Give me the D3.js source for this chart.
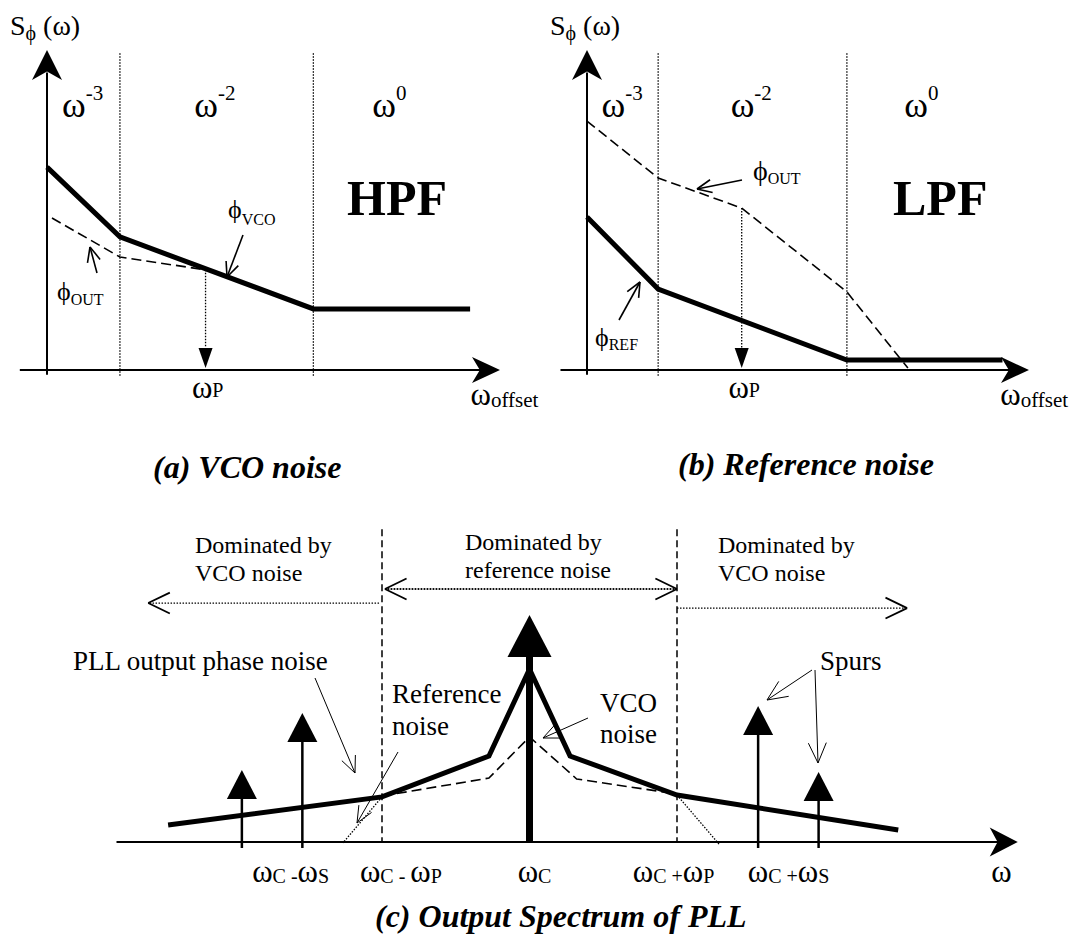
<!DOCTYPE html>
<meta charset="utf-8">

<head>
    <meta charset="utf-8">
    <title>PLL phase noise</title>
    <script type="text/javascript" src="https://d3js.org/d3.v7.min.js"></script>
</head>

<style type="text/css">
    body {
        margin: 0;
        background-color: #ffffff;
    }

    svg {
        display: block;
    }

    text {
        font-family: "Liberation Serif", "Times New Roman", serif;
        fill: #000;
    }

    .title {
        font-weight: bold;
        font-style: italic;
        font-size: 32px;
    }

    .big {
        font-weight: bold;
        font-size: 50px;
    }

    .note {
        font-size: 24px;
    }

    .thick { fill: none; stroke: #000; stroke-width: 5; stroke-linejoin: miter; }
    .dash  { fill: none; stroke: #000; stroke-width: 1.6; stroke-dasharray: 10, 5; }
    .dot   { fill: none; stroke: #000; stroke-width: 1.3; stroke-dasharray: 1.5, 1.5; }
    .thin  { fill: none; stroke: #000; stroke-width: 1; }
    .axis  { fill: none; stroke: #000; stroke-width: 2; }
</style>

<body>

    <div id="figure"></div>

    <script>

        // ---------- data ----------

        // (a) and (b): schematic offset axis 0..100, noise level 0..100
        const cornerFreqs = [16.1, 58.8];          // w^-3 | w^-2 | w^0 boundaries
        const omegaP = 35;                         // loop bandwidth
        const slopeExps = ["-3", "-2", "0"];
        const slopePos = [3.3, 32.5, 71.8];
        const vcoFree = [[0, 63.4], [16.1, 41.6], [58.8, 19.1], [93.4, 19.1]];
        const vcoAtOut = [[1.1, 47.5], [16.1, 35.3], [35, 31.3]];
        const refFree = [[0, 47.8], [16.1, 25.3], [58.8, 3.1], [94, 3.1]];
        const refAtOut = [[0, 77.8], [16.1, 60], [35, 50.6], [58.8, 24.4], [72.6, 0.6]];

        // (c): frequency in units of wP around the carrier, level 0..100
        const pllOut = [[-2.45, 7.4], [-1, 19.6], [-0.275, 37.4], [0, 75.2], [0.275, 37.4], [1, 20.4], [2.5, 5.2]];
        const vcoSide = [[-1, 20], [-0.275, 27.8], [0, 45.7], [0.32, 27.4], [1, 20.9]];
        const refSideL = [[-1, 19.6], [-1.265, -0.4]];
        const refSideR = [[1, 20.4], [1.29, -1.3]];
        const spurFreqs = [-1.95, -1.54, 1.55, 1.96];
        const spurLevels = [31.3, 56.1, 59.1, 30.4];
        const carrierLevel = 98.7;
        const tickPos = [-1.88, -1.15, -0.08, 0.70, 1.48, 3.13];
        // [text, isSubscript]
        const tickText = [
            [["ω", 0], ["C", 1], [" -", 1], ["ω", 0], ["S", 1]],
            [["ω", 0], ["C", 1], [" - ", 1], ["ω", 0], ["P", 1]],
            [["ω", 0], ["C", 1]],
            [["ω", 0], ["C", 1], [" +", 1], ["ω", 0], ["P", 1]],
            [["ω", 0], ["C", 1], [" +", 1], ["ω", 0], ["S", 1]],
            [["ω", 0]]
        ];

        // ---------- svg ----------
        const svg = d3.select("#figure")
            .append("svg")
            .attr("width", 1074)
            .attr("height", 938);

        // text with sub/superscripts; shift = offset from baseline (px)
        function rich(g, x, y, parts) {
            const t = g.append("text").attr("x", x).attr("y", y);
            let prev = 0;
            parts.forEach(p => {
                const s = p.shift || 0;
                t.append("tspan")
                    .attr("dy", s - prev)
                    .style("font-size", p.size + "px")
                    .text(p.t);
                prev = s;
            });
            return t;
        }

        // notched filled arrowhead (axes)
        function solidHead(g, tip, dir, len, half) {
            const [dx, dy] = dir, px = -dy, py = dx;
            const pts = [
                tip,
                [tip[0] - dx * len + px * half, tip[1] - dy * len + py * half],
                [tip[0] - dx * len * 0.72, tip[1] - dy * len * 0.72],
                [tip[0] - dx * len - px * half, tip[1] - dy * len - py * half]
            ];
            g.append("path").attr("d", "M" + pts.join("L") + "Z").attr("fill", "#000");
        }

        // plain filled triangle pointing up/down
        function triangle(g, x, tipY, baseY, half) {
            g.append("path")
                .attr("d", `M${x},${tipY}L${x + half},${baseY}L${x - half},${baseY}Z`)
                .attr("fill", "#000");
        }

        // open V arrowhead at "to"
        function openHead(g, from, to, len, ang, w) {
            const a = Math.atan2(to[1] - from[1], to[0] - from[0]);
            [ang, -ang].forEach(s => {
                g.append("line")
                    .attr("x1", to[0]).attr("y1", to[1])
                    .attr("x2", to[0] - len * Math.cos(a + s))
                    .attr("y2", to[1] - len * Math.sin(a + s))
                    .attr("stroke", "#000").attr("stroke-width", w);
            });
        }

        function pointer(g, from, to, len, w) {
            g.append("line")
                .attr("x1", from[0]).attr("y1", from[1])
                .attr("x2", to[0]).attr("y2", to[1])
                .attr("stroke", "#000").attr("stroke-width", w);
            openHead(g, from, to, len, 0.42, w);
        }

        // ---------- panels (a) and (b) ----------
        const yAB = d3.scaleLinear().domain([0, 100]).range([370, 50]);
        const xA = d3.scaleLinear().domain([0, 100]).range([47, 500]);
        const xB = d3.scaleLinear().domain([0, 100]).range([587, 1029]);

        function densityPanel(x, solid, dashed) {
            const g = svg.append("g");
            const line = d3.line().x(d => x(d[0])).y(d => yAB(d[1]));

            // axes
            g.append("line").attr("class", "axis")
                .attr("x1", x(-6)).attr("x2", x(96)).attr("y1", yAB(0)).attr("y2", yAB(0));
            solidHead(g, [x(100), yAB(0)], [1, 0], 28, 13);
            g.append("line").attr("class", "axis")
                .attr("x1", x(0)).attr("x2", x(0)).attr("y1", yAB(-1.5)).attr("y2", yAB(93));
            solidHead(g, [x(0), yAB(100)], [0, -1], 30, 15);

            // region boundaries
            g.selectAll(".corner")
                .data(cornerFreqs)
                .join("line")
                .attr("class", "dot")
                .attr("x1", d => x(d)).attr("x2", d => x(d))
                .attr("y1", yAB(99)).attr("y2", yAB(-2));

            // slope labels
            slopeExps.forEach((e, i) => {
                rich(g, x(slopePos[i]), yAB(79), [
                    { t: "ω", size: 36 },
                    { t: e, size: 21, shift: -17 }
                ]);
            });

            g.append("path").datum(solid).attr("class", "thick").attr("d", line);
            g.append("path").datum(dashed).attr("class", "dash").attr("d", line);

            // wP marker
            const wp = dashed.find(d => d[0] === omegaP);
            g.append("line").attr("class", "dot")
                .attr("x1", x(omegaP)).attr("x2", x(omegaP))
                .attr("y1", yAB(wp[1])).attr("y2", yAB(7));
            triangle(g, x(omegaP), yAB(0.6), yAB(0.6) - 20, 7);

            rich(g, x(32), 398, [{ t: "ω", size: 31 }, { t: "P", size: 20, shift: -1 }]);
            rich(g, x(93.5), 405, [{ t: "ω", size: 31 }, { t: "offset", size: 21, shift: 2 }]);
            rich(g, x(0) - 37, 35, [
                { t: "S", size: 28 },
                { t: "ϕ", size: 20, shift: 5 },
                { t: " (ω)", size: 28 }
            ]);
            return g;
        }

        const gA = densityPanel(xA, vcoFree, vcoAtOut);
        gA.append("text").attr("class", "big").attr("x", 347).attr("y", 215).text("HPF");
        rich(gA, 228, 218, [{ t: "ϕ", size: 26 }, { t: "VCO", size: 16, shift: 7 }]);
        pointer(gA, [243, 235], [227, 277], 16, 1.6);
        rich(gA, 57, 300, [{ t: "ϕ", size: 26 }, { t: "OUT", size: 16, shift: 5 }]);
        pointer(gA, [97, 273], [90, 247], 16, 1.6);
        gA.append("text").attr("class", "title").attr("x", 153).attr("y", 478).text("(a) VCO noise");

        const gB = densityPanel(xB, refFree, refAtOut);
        gB.append("text").attr("class", "big").attr("x", 893).attr("y", 215).text("LPF");
        rich(gB, 753, 180, [{ t: "ϕ", size: 28 }, { t: "OUT", size: 16, shift: 4 }]);
        pointer(gB, [742, 180], [697, 189], 16, 1.6);
        rich(gB, 595, 346, [{ t: "ϕ", size: 26 }, { t: "REF", size: 16, shift: 4 }]);
        pointer(gB, [619, 320], [640, 282], 16, 1.6);
        gB.append("text").attr("class", "title").attr("x", 678).attr("y", 475).text("(b) Reference noise");

        // ---------- panel (c) ----------
        const xC = d3.scaleLinear().domain([-1, 1]).range([382, 677]);
        const yC = d3.scaleLinear().domain([0, 100]).range([842, 612]);
        const lineC = d3.line().x(d => xC(d[0])).y(d => yC(d[1]));
        const gC = svg.append("g");

        gC.append("line").attr("class", "axis")
            .attr("x1", xC(-2.8)).attr("x2", xC(3.2)).attr("y1", yC(0)).attr("y2", yC(0));
        solidHead(gC, [xC(3.31), yC(0)], [1, 0], 28, 14.5);

        // wP boundaries
        gC.selectAll(".bound")
            .data([-1, 1])
            .join("line")
            .attr("fill", "none").attr("stroke", "#000").attr("stroke-width", 1.5)
            .attr("stroke-dasharray", "7,4")
            .attr("x1", d => xC(d)).attr("x2", d => xC(d))
            .attr("y1", yC(136)).attr("y2", yC(0));

        // dominance arrows
        const dom = [
            { from: -1.02, to: -2.585, lvl: 103.9 },
            { from: 1, to: -0.98, lvl: 110 },
            { from: -0.98, to: 1, lvl: 110 },
            { from: 1, to: 2.56, lvl: 101.7 }
        ];
        dom.forEach(d => {
            const a = [xC(d.from), yC(d.lvl)], b = [xC(d.to), yC(d.lvl)];
            gC.append("line").attr("class", "dot")
                .attr("x1", a[0]).attr("y1", a[1]).attr("x2", b[0]).attr("y2", b[1]);
            openHead(gC, a, b, 24, 0.45, 1.8);
        });

        const noteL = [["Dominated by", "VCO noise", 195, 553], ["Dominated by", "reference noise", 465, 550], ["Dominated by", "VCO noise", 718, 553]];
        noteL.forEach(n => {
            gC.append("text").attr("class", "note").attr("x", n[2]).attr("y", n[3]).text(n[0]);
            gC.append("text").attr("class", "note").attr("x", n[2]).attr("y", n[3] + 28).text(n[1]);
        });

        // noise curves
        gC.append("path").datum(refSideL).attr("class", "dot").attr("d", lineC);
        gC.append("path").datum(refSideR).attr("class", "dot").attr("d", lineC);
        gC.append("path").datum(vcoSide).attr("class", "dash").attr("d", lineC);
        gC.append("path").datum(pllOut).attr("class", "thick").attr("stroke-width", 5.5).attr("d", lineC);

        // spurs
        spurFreqs.forEach((f, i) => {
            const tip = yC(spurLevels[i]);
            gC.append("line").attr("stroke", "#000").attr("stroke-width", 2.5)
                .attr("x1", xC(f)).attr("x2", xC(f))
                .attr("y1", yC(-2.6)).attr("y2", tip + 25);
            triangle(gC, xC(f), tip, tip + 29, 15);
        });

        // carrier
        gC.append("line").attr("stroke", "#000").attr("stroke-width", 7)
            .attr("x1", xC(0)).attr("x2", xC(0))
            .attr("y1", yC(0)).attr("y2", yC(carrierLevel) + 38);
        triangle(gC, xC(0), yC(carrierLevel), yC(carrierLevel) + 42, 22);

        // annotations
        gC.append("text").attr("x", 73).attr("y", 670).style("font-size", "27px").text("PLL output phase noise");
        pointer(gC, [315, 678], [355, 773], 18, 1);
        gC.append("text").attr("x", 392).attr("y", 703).style("font-size", "27px").text("Reference");
        gC.append("text").attr("x", 392).attr("y", 735).style("font-size", "27px").text("noise");
        pointer(gC, [398, 752], [357, 823], 18, 1);
        gC.append("text").attr("x", 600).attr("y", 712).style("font-size", "27px").text("VCO");
        gC.append("text").attr("x", 600).attr("y", 743).style("font-size", "27px").text("noise");
        pointer(gC, [588, 718], [543, 738], 18, 1);
        gC.append("text").attr("x", 820).attr("y", 670).style("font-size", "27px").text("Spurs");
        pointer(gC, [812, 670], [767, 700], 22, 1);
        pointer(gC, [815, 670], [818, 763], 22, 1);

        // frequency labels
        tickText.forEach((parts, i) => {
            rich(gC, xC(tickPos[i]), 882, parts.map(p => p[1]
                ? { t: p[0], size: 20, shift: 1 }
                : { t: p[0], size: 31 }));
        });

        gC.append("text").attr("class", "title").attr("x", 375).attr("y", 927).text("(c) Output Spectrum of PLL");

    </script>
</body>

</html>
